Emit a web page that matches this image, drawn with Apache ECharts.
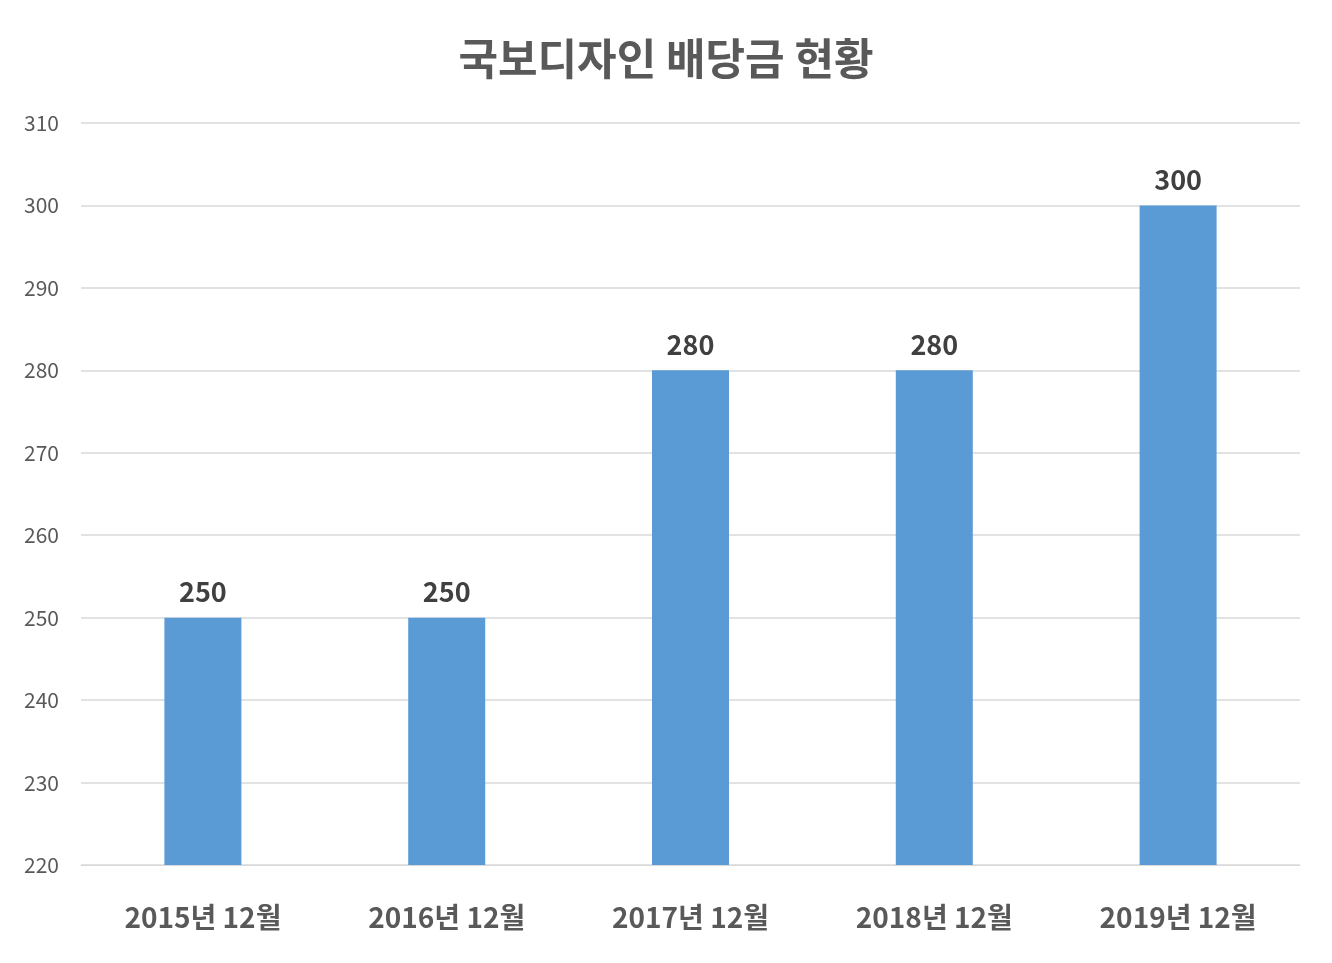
<!DOCTYPE html>
<html>
<head>
    <meta charset="utf-8">
    <title>국보디자인 배당금 현황</title>
    <script src="https://cdn.jsdelivr.net/npm/echarts@6/dist/echarts.min.js"></script>
    <style>
        html, body { margin: 0; padding: 0; background: #fff; }
    </style>
</head>
<body>
    <div id="chart" style="width: 1332px;height:963px;"></div>
    <script type="text/javascript">
// 데이터
var categories = ['2015년 12월', '2016년 12월', '2017년 12월', '2018년 12월', '2019년 12월'];
var dividends = [250, 250, 280, 280, 300];

var myChart = echarts.init(document.getElementById('chart'));

var option = {
    title: {
        text: '국보디자인 배당금 현황',
        left: 'center',
        top: 32,
        textStyle: {
            fontFamily: 'Noto Sans CJK KR',
            fontSize: 43,
            fontWeight: 'bold',
            color: '#595959'
        }
    },
    grid: {
        left: 81,
        right: 32,
        top: 123,
        bottom: 98
    },
    xAxis: {
        type: 'category',
        data: categories,
        axisTick: {show: false},
        axisLine: {lineStyle: {color: '#d9d9d9'}},
        axisLabel: {
            margin: 38,
            fontFamily: 'Noto Sans CJK KR',
            fontSize: 28,
            fontWeight: 'bold',
            color: '#595959'
        }
    },
    yAxis: {
        type: 'value',
        min: 220,
        max: 310,
        interval: 10,
        axisLine: {show: false},
        axisTick: {show: false},
        splitLine: {lineStyle: {color: '#d9d9d9', width: 1.5}},
        axisLabel: {
            margin: 22,
            fontFamily: 'Noto Sans CJK KR',
            fontSize: 21,
            color: '#595959'
        }
    },
    series: [{
        type: 'bar',
        data: dividends,
        barWidth: 77,
        itemStyle: {color: '#5b9bd5'},
        label: {
            show: true,
            position: 'top',
            distance: 12,
            fontFamily: 'Noto Sans CJK KR',
            fontSize: 27,
            fontWeight: 'bold',
            color: '#404040'
        }
    }]
};

myChart.setOption(option);
    </script>
</body>
</html>
